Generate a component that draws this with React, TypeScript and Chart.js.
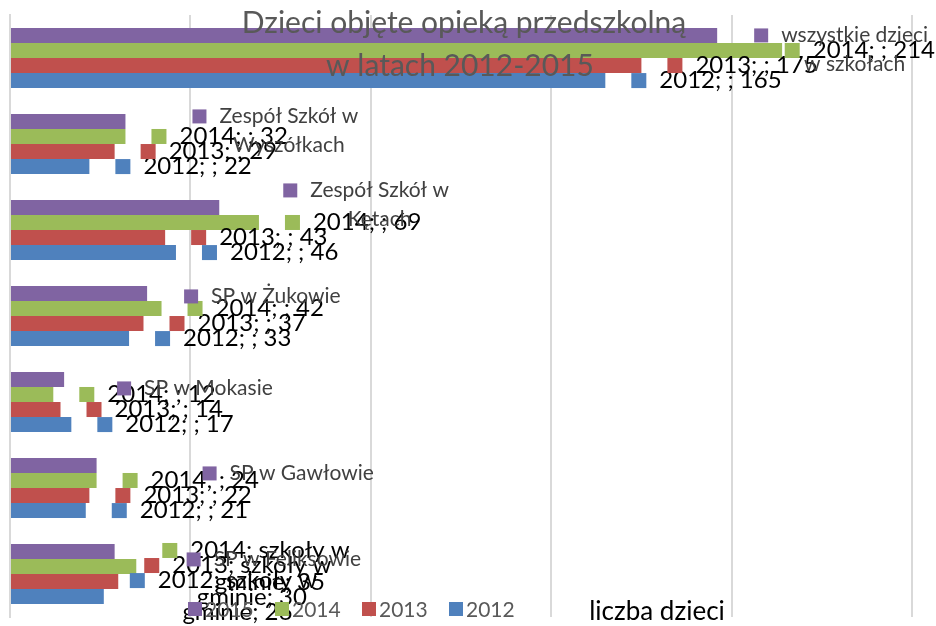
import React, { useEffect, useRef } from "react";
import { Chart, registerables } from "chart.js";

Chart.register(...registerables);

// ---- data ----
const categories: string[][] = [
  ["wszystkie dzieci", "w szkołach"],
  ["Zespół Szkół w", "Wyszółkach"],
  ["Zespół Szkół w", "Kętach"],
  ["SP w Żukowie"],
  ["SP w Mokasie"],
  ["SP w Gawłowie"],
  ["SP w Feliksowie"],
];
// category text shown inside the year labels (as in the original chart)
const labelCategoryText: string[][] = [[""], [""], [""], [""], [""], [""], ["szkoły w", "gminie"]];
const seriesNames = ["2015", "2014", "2013", "2012"];
const values2015 = [196, 32, 58, 38, 15, 24, 29];
const values2014 = [214, 32, 69, 42, 12, 24, 35];
const values2013 = [175, 29, 43, 37, 14, 22, 30];
const values2012 = [165, 22, 46, 33, 17, 21, 26];
const xMin = 0;
const xMax = 250;
const xStep = 50;
const titleLines = ["Dzieci objęte opieką przedszkolną", "w latach 2012-2015"];
const axisTitle = "liczba dzieci";

// ---- styles ----
const colors = ["#8064A2", "#9BBB59", "#C0504D", "#4F81BD"];
const FONT = "Lato, 'Open Sans', sans-serif";
// label placement for the 2015 (category-name) labels: [dx from bar end, dy of first line from bar centre]
const catLabelOffsets: number[][] = [
  [37, 0], [67, -5], [64, -17], [37, 3], [53, 9], [106, 8], [72, 8],
];

const overlayPlugin = {
  id: "overlay",
  afterDatasetsDraw(chart: any) {
    const ctx: CanvasRenderingContext2D = chart.ctx;
    const W = chart.width;
    ctx.save();

    // title (drawn over the plot)
    ctx.fillStyle = "#595959";
    ctx.font = `30px ${FONT}`;
    ctx.textAlign = "center";
    ctx.textBaseline = "middle";
    ctx.fillText(titleLines[0], 464, 23);
    ctx.fillText(titleLines[1], 460, 66);

    // data labels
    const drawLabel = (x: number, y: number, lines: string[], color: string, textColor: string, size: number, lh: number, key: number) => {
      ctx.font = `${size}px ${FONT}`;
      const widths = lines.map((l) => ctx.measureText(l).width);
      const maxW = Math.max(...widths);
      const total = key + 14 + maxW;
      if (x + total > W) x = W - total;
      ctx.fillStyle = color;
      ctx.fillRect(x, y - key / 2, key, key);
      ctx.fillStyle = textColor;
      ctx.textAlign = "center";
      ctx.textBaseline = "middle";
      const cx = x + key + 13 + widths[0] / 2;
      lines.forEach((l, i) => ctx.fillText(l, cx, y + i * lh));
    };

    for (let d = chart.data.datasets.length - 1; d >= 0; d--) {
      const meta = chart.getDatasetMeta(d);
      meta.data.forEach((el: any, i: number) => {
        const v = chart.data.datasets[d].data[i];
        if (d === 0) {
          const [dx, dy] = catLabelOffsets[i];
          drawLabel(el.x + dx, el.y + dy, categories[i], colors[0], "#404040", 21, 29, 14);
        } else {
          const cat = labelCategoryText[i];
          const name = seriesNames[d];
          let lines: string[];
          if (cat.length > 1) lines = [`${name}; ${cat[0]}`, `${cat[1]}; ${v}`];
          else lines = [`${name}; ${cat[0]}; ${v}`];
          const dy = lines.length > 1 ? -16 : 0;
          drawLabel(el.x + 26, el.y + dy, lines, colors[d], "#000000", 24, 32, 15);
        }
      });
    }

    // legend
    ctx.font = `21px ${FONT}`;
    ctx.textAlign = "left";
    ctx.textBaseline = "middle";
    seriesNames.forEach((n, k) => {
      const x0 = 188 + k * 87;
      ctx.fillStyle = colors[k];
      ctx.fillRect(x0, 602, 14, 14);
      ctx.fillStyle = "#595959";
      ctx.fillText(n, x0 + 17, 610);
    });

    // axis title
    ctx.fillStyle = "#000000";
    ctx.font = `26px ${FONT}`;
    ctx.textAlign = "center";
    ctx.fillText(axisTitle, 657, 612);

    ctx.restore();
  },
};

export default function App() {
  const ref = useRef<HTMLCanvasElement>(null);
  useEffect(() => {
    if (!ref.current) return;
    const chart = new Chart(ref.current, {
      type: "bar",
      data: {
        labels: categories,
        datasets: [values2015, values2014, values2013, values2012].map((vals, k) => ({
          label: seriesNames[k],
          data: vals,
          backgroundColor: colors[k],
          borderWidth: 0,
          barPercentage: 1,
          categoryPercentage: 0.7,
        })),
      },
      options: {
        indexAxis: "y",
        responsive: false,
        animation: false,
        layout: { padding: { left: 10, right: 24, top: 15, bottom: 9 } },
        scales: {
          x: {
            min: xMin,
            max: xMax,
            ticks: { display: false, stepSize: xStep },
            grid: { color: "#d9d9d9", lineWidth: 2, drawTicks: false },
            border: { display: false },
          },
          y: {
            ticks: { display: false },
            grid: { display: false, drawTicks: false },
            border: { display: true, color: "#d9d9d9", width: 2 },
          },
        },
        plugins: {
          legend: { display: false },
          title: { display: false },
          tooltip: { enabled: false },
        },
      },
      plugins: [overlayPlugin],
    });
    return () => chart.destroy();
  }, []);
  return (
    <div style={{ position: "fixed", left: 0, top: 0, width: 936, height: 626, background: "#fff" }}>
      <canvas ref={ref} width={936} height={626} />
    </div>
  );
}
